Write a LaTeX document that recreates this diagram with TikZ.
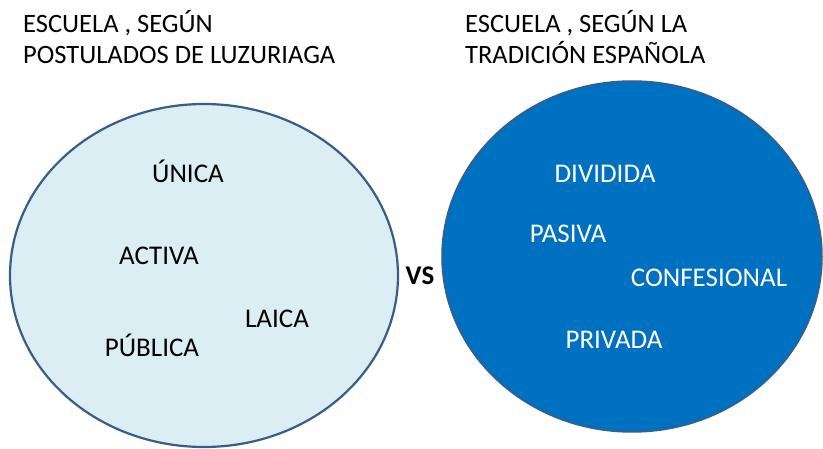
\documentclass[tikz,border=0pt]{standalone}
\usepackage{fontspec}
\setmainfont{Carlito}
\definecolor{lightfill}{HTML}{DAEEF3}
\definecolor{darkfill}{HTML}{0070C0}
\definecolor{edgeblue}{HTML}{385D8A}
\tikzset{
  title/.style={anchor=base west, inner sep=0pt, font=\fontsize{26.5}{26.5}\selectfont},
  lword/.style={anchor=base, inner sep=0pt, font=\fontsize{27}{27}\selectfont, text=black},
  dword/.style={anchor=base, inner sep=0pt, font=\fontsize{27}{27}\selectfont, text=white},
}
\begin{document}
\begin{tikzpicture}[x=1pt,y=-1pt]
\useasboundingbox (0,0) rectangle (823,449);
% ellipses
\draw[edgeblue, line width=2.2pt, fill=lightfill] (204,275.5) ellipse [x radius=194, y radius=171.5];
\draw[edgeblue, line width=1.5pt, fill=darkfill] (632,256.5) ellipse [x radius=190, y radius=175.5];
% titles
\node[title] (t1a) at (23,33) {ESCUELA , SEGÚN};
\node[title] (t1b) at (23,64) {POSTULADOS DE LUZURIAGA};
\node[title] (t2a) at (465,33) {ESCUELA , SEGÚN LA};
\node[title] (t2b) at (465,64) {TRADICIÓN ESPAÑOLA};
% left words
\node[lword] (unica) at (188,183) {ÚNICA};
\node[lword] (activa) at (159,265) {ACTIVA};
\node[lword] (laica) at (277,328) {LAICA};
\node[lword] (publica) at (152,357) {PÚBLICA};
% right words
\node[dword] (dividida) at (605,183) {DIVIDIDA};
\node[dword] (pasiva) at (568,243) {PASIVA};
\node[dword] (confesional) at (709,287) {CONFESIONAL};
\node[dword] (privada) at (614,349) {PRIVADA};
% vs
\node[anchor=base, inner sep=0pt, font=\fontsize{27}{27}\selectfont\bfseries] (vs) at (420,285) {VS};
\end{tikzpicture}
\end{document}
